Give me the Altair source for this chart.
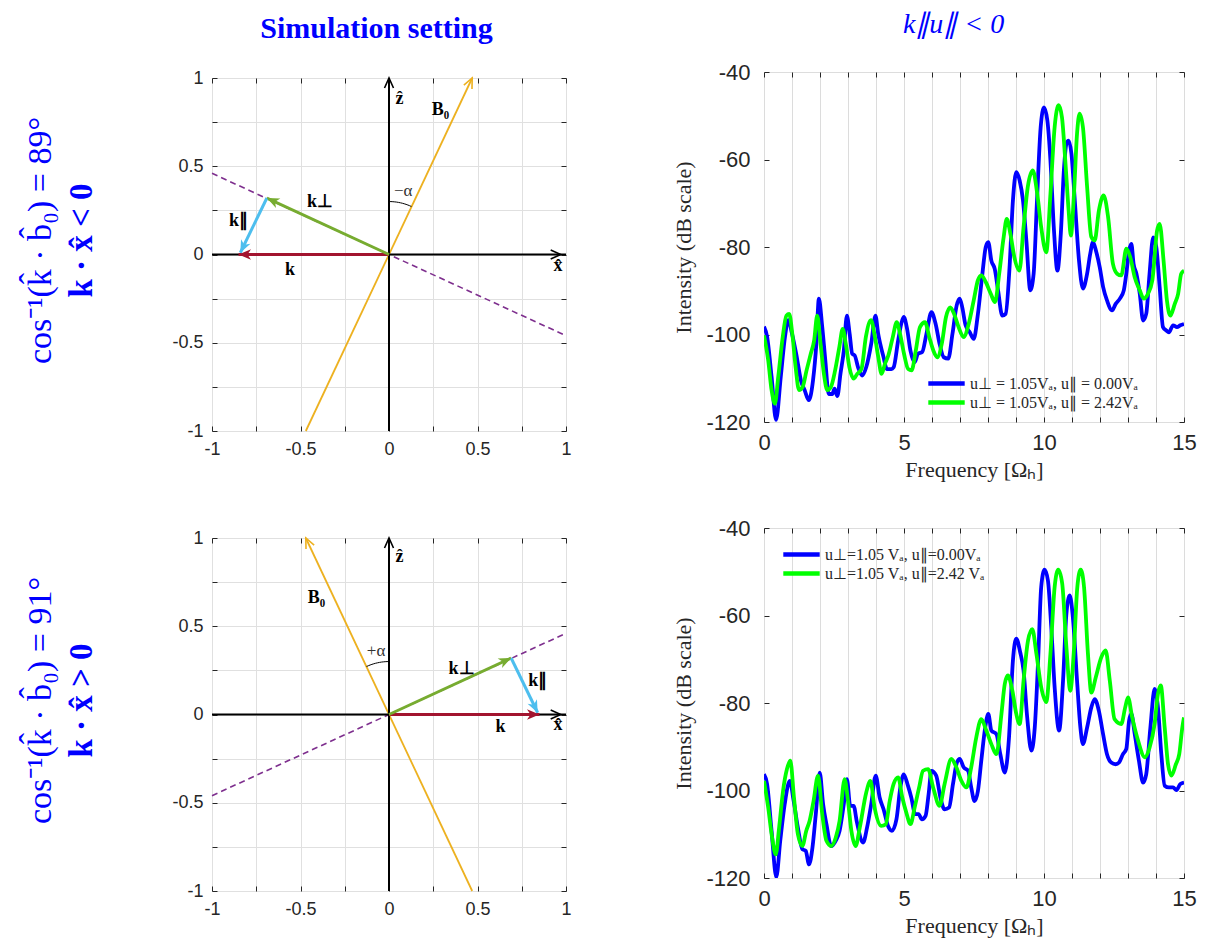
import math
import altair as alt
import pandas as pd

SERIF = "Liberation Serif"
SANS = "Liberation Sans"
TXT = "#262626"
BLUE_T = "#0000FF"
ORANGE, RED, GREEN, CYAN, PURPLE = "#EDB120", "#A2142F", "#77AC30", "#4DBEEE", "#7E2F8E"

# ---------------- spectra ----------------
top_blue_f = [0, 0.11, 0.27, 0.43, 0.6, 0.75, 0.87, 1.0, 1.15, 1.33,
              1.45, 1.6, 1.75, 1.87, 1.96, 2.08, 2.19, 2.31, 2.44, 2.52,
              2.62, 2.73, 2.85, 2.96, 3.06, 3.15, 3.24, 3.36, 3.51, 3.65,
              3.83, 3.98, 4.08, 4.15, 4.27, 4.39, 4.55, 4.63, 4.79, 4.9,
              4.99, 5.11, 5.23, 5.38, 5.5, 5.65, 5.8, 5.98, 6.13, 6.27,
              6.42, 6.58, 6.73, 6.88, 6.99, 7.08, 7.2, 7.35, 7.49, 7.64,
              7.8, 7.92, 8.01, 8.12, 8.24, 8.36, 8.51, 8.63, 8.77, 8.89,
              9.01, 9.13, 9.25, 9.37, 9.51, 9.63, 9.75, 9.88, 10.0, 10.12,
              10.23, 10.35, 10.48, 10.6, 10.71, 10.8, 10.88, 10.98, 11.1, 11.25,
              11.39, 11.54, 11.65, 11.75, 11.87, 11.99, 12.11, 12.25, 12.43, 12.56,
              12.71, 12.85, 12.94, 13.04, 13.12, 13.2, 13.3, 13.42, 13.54, 13.65,
              13.77, 13.9, 14.01, 14.13, 14.25, 14.37, 14.46, 14.61, 14.75, 14.87,
              15.0]
top_blue_v = [-98.2, -100.5, -109.6, -119.5, -109.6, -100.5, -96.7, -99.8, -104.4, -110.8,
              -112.7, -115.0, -110.5, -102.1, -91.8, -98.3, -105.9, -113.6, -113.6, -112.4,
              -114.1, -109.0, -103.7, -95.7, -99.9, -104.4, -104.8, -107.5, -109.4, -107.5,
              -102.1, -95.7, -99.9, -102.1, -105.2, -107.9, -107.9, -107.5, -101.4, -97.6,
              -96.0, -98.7, -103.7, -106.3, -104.4, -104.0, -99.9, -94.9, -97.6, -102.1,
              -105.2, -105.5, -99.9, -93.4, -91.8, -93.8, -97.9, -99.5, -101.0, -95.3,
              -86.1, -80.0, -78.9, -83.1, -85.0, -89.9, -95.7, -95.3, -84.6, -69.4,
              -62.9, -64.8, -69.4, -78.5, -89.9, -86.1, -69.4, -52.7, -48.1, -51.1,
              -60.2, -75.5, -85.4, -77.0, -62.5, -56.4, -55.7, -58.7, -69.4, -83.1,
              -89.5, -86.1, -81.6, -78.9, -81.2, -84.6, -89.1, -92.2, -94.5, -93.0,
              -91.8, -89.9, -86.1, -80.8, -79.3, -83.9, -86.1, -90.7, -96.8, -95.3,
              -86.1, -77.8, -80.0, -89.1, -98.3, -99.1, -99.5, -97.9, -98.3, -97.9,
              -97.6]
top_green_f = [0, 0.15, 0.27, 0.39, 0.51, 0.67, 0.8, 0.9, 1.01, 1.13,
               1.25, 1.38, 1.52, 1.67, 1.79, 1.9, 2.02, 2.14, 2.26, 2.39,
               2.54, 2.69, 2.81, 2.92, 3.05, 3.2, 3.33, 3.48, 3.64, 3.82,
               3.96, 4.08, 4.2, 4.32, 4.44, 4.6, 4.74, 4.86, 5.0, 5.15,
               5.27, 5.42, 5.57, 5.75, 5.9, 6.05, 6.19, 6.35, 6.5, 6.65,
               6.79, 6.95, 7.13, 7.31, 7.49, 7.64, 7.76, 7.92, 8.1, 8.25,
               8.4, 8.56, 8.67, 8.8, 8.94, 9.12, 9.27, 9.42, 9.6, 9.76,
               9.9, 10.08, 10.23, 10.38, 10.52, 10.64, 10.76, 10.88, 10.96, 11.07,
               11.18, 11.27, 11.39, 11.54, 11.69, 11.81, 11.96, 12.13, 12.29, 12.46,
               12.61, 12.76, 12.94, 13.08, 13.24, 13.42, 13.56, 13.71, 13.87, 14.04,
               14.13, 14.27, 14.39, 14.51, 14.67, 14.79, 14.9, 15.0]
top_green_v = [-100.2, -105.9, -112.7, -115.8, -109.6, -100.5, -95.7, -95.3, -99.8, -107.5,
               -112.7, -112.0, -108.2, -104.4, -101.4, -95.7, -102.1, -109.0, -112.7, -112.0,
               -108.2, -102.9, -98.7, -102.1, -107.5, -110.1, -109.0, -107.9, -100.5, -96.7,
               -100.5, -105.1, -109.0, -106.7, -104.8, -100.6, -97.2, -99.9, -104.4, -107.9,
               -108.2, -103.7, -98.3, -97.2, -100.5, -103.7, -105.2, -102.1, -96.0, -93.8,
               -95.3, -98.3, -100.6, -97.6, -92.2, -87.6, -86.5, -88.0, -90.7, -92.6,
               -86.1, -77.7, -73.6, -77.0, -82.3, -85.4, -75.5, -66.3, -62.5, -67.9,
               -75.5, -81.2, -67.9, -52.6, -47.6, -50.3, -60.2, -71.7, -77.4, -67.9,
               -54.1, -49.5, -52.6, -66.3, -77.7, -78.5, -71.7, -68.2, -73.2, -83.8,
               -86.1, -86.5, -80.4, -82.3, -86.9, -89.9, -91.8, -90.7, -87.6, -76.2,
               -74.7, -83.1, -92.2, -95.7, -93.0, -90.7, -86.1, -85.4]
bot_blue_f = [0, 0.11, 0.27, 0.44, 0.58, 0.74, 0.92, 1.06, 1.21, 1.37,
              1.49, 1.61, 1.73, 1.85, 1.99, 2.11, 2.23, 2.4, 2.56, 2.7,
              2.85, 2.96, 3.08, 3.2, 3.32, 3.54, 3.68, 3.83, 3.99, 4.13,
              4.27, 4.43, 4.57, 4.73, 4.87, 4.99, 5.14, 5.26, 5.4, 5.52,
              5.64, 5.77, 5.88, 5.98, 6.15, 6.3, 6.45, 6.61, 6.75, 6.89,
              6.99, 7.13, 7.29, 7.4, 7.52, 7.64, 7.76, 7.9, 8.01, 8.12,
              8.3, 8.44, 8.6, 8.75, 8.89, 9.01, 9.15, 9.27, 9.4, 9.55,
              9.67, 9.79, 9.9, 10.02, 10.14, 10.26, 10.38, 10.54, 10.68, 10.8,
              10.92, 11.04, 11.18, 11.3, 11.39, 11.54, 11.69, 11.81, 11.96, 12.11,
              12.25, 12.4, 12.56, 12.68, 12.82, 12.94, 13.04, 13.12, 13.24, 13.39,
              13.54, 13.65, 13.8, 13.95, 14.07, 14.19, 14.31, 14.46, 14.61, 14.73,
              14.87, 15.0]
bot_blue_v = [-96.3, -98.5, -109.2, -119.8, -111.5, -103.1, -97.8, -102.4, -108.5, -113.4,
              -113.8, -116.9, -113.1, -105.4, -95.9, -103.1, -107.7, -112.7, -111.5, -109.2,
              -103.1, -97.4, -103.5, -103.5, -107.3, -111.9, -108.5, -103.1, -96.6, -101.6,
              -104.3, -108.1, -109.2, -106.6, -99.3, -96.3, -98.9, -101.6, -105.4, -105.4,
              -106.6, -105.8, -100.8, -95.5, -96.6, -101.6, -104.3, -103.9, -98.5, -93.6,
              -92.8, -94.7, -95.5, -99.3, -102.4, -100.1, -93.2, -85.6, -82.5, -86.3,
              -87.1, -91.7, -95.9, -87.9, -70.3, -65.3, -68.4, -72.6, -83.3, -90.9,
              -85.6, -70.3, -53.5, -49.5, -52.0, -62.7, -76.4, -86.3, -74.9, -59.6,
              -55.4, -61.1, -74.9, -85.6, -89.4, -85.6, -81.0, -79.1, -81.8, -87.1,
              -91.7, -93.6, -94.0, -93.6, -91.7, -90.5, -84.0, -82.5, -87.1, -93.2,
              -98.2, -96.3, -85.6, -76.8, -81.0, -91.7, -98.9, -99.3, -99.3, -99.9,
              -98.5, -98.2]
bot_green_f = [0, 0.15, 0.29, 0.42, 0.54, 0.68, 0.82, 0.94, 1.07, 1.21,
               1.37, 1.51, 1.63, 1.77, 1.93, 2.08, 2.23, 2.4, 2.56, 2.7,
               2.88, 3.0, 3.12, 3.27, 3.42, 3.65, 3.8, 3.95, 4.19, 4.35,
               4.49, 4.63, 4.79, 4.94, 5.08, 5.23, 5.38, 5.54, 5.68, 5.86,
               6.04, 6.27, 6.45, 6.69, 6.87, 7.05, 7.23, 7.4, 7.58, 7.76,
               7.94, 8.12, 8.3, 8.48, 8.6, 8.71, 8.87, 9.01, 9.13, 9.27,
               9.43, 9.58, 9.73, 9.9, 10.08, 10.23, 10.38, 10.51, 10.65, 10.8,
               10.94, 11.06, 11.19, 11.31, 11.43, 11.57, 11.69, 11.85, 12.05, 12.2,
               12.35, 12.52, 12.76, 12.9, 13.0, 13.15, 13.36, 13.6, 13.77, 13.95,
               14.07, 14.17, 14.31, 14.43, 14.55, 14.71, 14.83, 14.94, 15.0]
bot_green_v = [-97.8, -103.9, -110.8, -114.6, -108.5, -100.1, -95.1, -93.2, -101.6, -110.0,
               -112.7, -109.2, -106.9, -102.4, -96.6, -105.4, -111.5, -112.7, -110.8, -106.9,
               -97.4, -102.4, -109.2, -112.7, -108.5, -100.5, -97.8, -103.9, -108.1, -107.7,
               -102.4, -98.5, -97.0, -101.6, -105.0, -107.7, -103.9, -99.3, -95.5, -95.1,
               -99.3, -103.5, -98.5, -92.8, -94.7, -97.8, -99.3, -94.7, -87.9, -83.7,
               -86.3, -89.4, -91.7, -82.5, -75.6, -73.7, -77.2, -82.5, -84.8, -74.9,
               -65.7, -63.1, -68.8, -76.4, -79.8, -68.8, -53.5, -49.5, -52.7, -67.3,
               -77.2, -68.8, -53.5, -49.5, -53.5, -68.8, -77.6, -74.1, -69.5, -68.0,
               -74.9, -83.7, -84.8, -81.0, -78.7, -83.3, -88.6, -92.4, -90.2, -84.8,
               -77.9, -76.0, -85.6, -94.0, -96.6, -94.0, -91.7, -85.6, -83.3]

top_labels = ["u\u22a5 = 1.05V\u2090, u\u2225 = 0.00V\u2090", "u\u22a5 = 1.05V\u2090, u\u2225 = 2.42V\u2090"]
bot_labels = ["u\u22a5=1.05 V\u2090, u\u2225=0.00V\u2090", "u\u22a5=1.05 V\u2090, u\u2225=2.42 V\u2090"]
freq_ticks = list(range(16))
db_ticks = [-120, -100, -80, -60, -40]

# ---------------- vector diagrams ----------------
grid_ticks = [-1, -0.75, -0.5, -0.25, 0, 0.25, 0.5, 0.75, 1]
frame_axes = {"x": [-1, 0], "y": [0, -1], "x2": [1, 0], "y2": [0, 1], "tipx": [0.97, 0], "tipy": [0, 1]}

top_b0_x, top_b0_y = [-0.47, 0.47], [-1.0, 1.0]
top_plane_x, top_plane_y = [-1.0, 1.0], [0.46, -0.46]
top_k = [0.0, 0.0, -0.85, 0.0]
top_kperp = [0.0, 0.0, -0.69, 0.32]
top_kpar = [-0.69, 0.32, -0.84, 0.01]
top_alpha_deg = 25.0
top_text = ["B\u2080", "k\u22a5", "k\u2225", "k", "\u1e91", "x\u0302"]
top_text_x = [0.29, -0.39, -0.85, -0.56, 0.06, 0.955]
top_text_y = [0.82, 0.30, 0.19, -0.085, 0.88, -0.065]
top_alpha_text, top_alpha_xy = "\u2212\u03b1", (0.08, 0.357)

bot_b0_x, bot_b0_y = [0.47, -0.47], [-1.0, 1.0]
bot_plane_x, bot_plane_y = [-1.0, 1.0], [-0.46, 0.46]
bot_k = [0.0, 0.0, 0.85, 0.0]
bot_kperp = [0.0, 0.0, 0.69, 0.32]
bot_kpar = [0.69, 0.32, 0.84, 0.01]
bot_alpha_deg = -25.0
bot_text = ["B\u2080", "k\u22a5", "k\u2225", "k", "\u1e91", "x\u0302"]
bot_text_x = [-0.41, 0.41, 0.84, 0.63, 0.06, 0.955]
bot_text_y = [0.66, 0.26, 0.19, -0.07, 0.89, -0.06]
bot_alpha_text, bot_alpha_xy = "+\u03b1", (-0.073, 0.357)

VW, VH = 354, 353
SW, SH = 420, 350


def inner_axis(orient, values):
    return alt.Axis(orient=orient, values=values, offset=-5, tickSize=5, ticks=True,
                    labels=False, domain=False, grid=False, title=None,
                    tickColor=TXT, tickWidth=1)


def heading(dx, dy):
    a = math.degrees(math.atan2(dx * VW / 2, dy * VH / 2))
    return (a + 360) % 360


def vector_panel(b0x, b0y, plx, ply, k, kperp, kpar, alpha, txt, tx, ty, atxt, axy, main, sub):
    xs = alt.Scale(domain=[-1, 1], nice=False, zero=False)
    ys = alt.Scale(domain=[-1, 1], nice=False, zero=False)
    lab = "datum.value % 0.5 == 0 ? '' + datum.value : ''"
    plane = alt.Chart(pd.DataFrame({"x": plx, "y": ply})).mark_line(
        color=PURPLE, strokeWidth=1.6, strokeDash=[6, 4]).encode(
        x=alt.X("x:Q", scale=xs, axis=alt.Axis(orient="bottom", values=grid_ticks, labelExpr=lab,
                                                grid=True, ticks=False, domain=False, labelFlush=False,
                                                labelOverlap=False, labelFont=SANS, labelFontSize=18,
                                                labelColor=TXT, labelPadding=9, title=None,
                                                gridColor="#e0e0e0")),
        y=alt.Y("y:Q", scale=ys, axis=alt.Axis(orient="left", values=grid_ticks, labelExpr=lab,
                                                grid=True, ticks=False, domain=False,
                                                labelOverlap=False, labelFont=SANS, labelFontSize=18,
                                                labelColor=TXT, labelPadding=9, title=None,
                                                gridColor="#e0e0e0")))
    b0 = alt.Chart(pd.DataFrame({"x": b0x, "y": b0y})).mark_line(color=ORANGE, strokeWidth=1.8).encode(
        x=alt.X("x:Q", scale=xs, axis=inner_axis("top", grid_ticks)),
        y=alt.Y("y:Q", scale=ys, axis=inner_axis("right", grid_ticks)))
    axes_df = pd.DataFrame({k_: v for k_, v in frame_axes.items() if k_ in ("x", "y", "x2", "y2")})
    axes_lines = alt.Chart(axes_df).mark_rule(color="black", strokeWidth=2).encode(
        x=alt.X("x:Q", scale=xs, axis=inner_axis("bottom", grid_ticks)),
        y=alt.Y("y:Q", scale=ys, axis=inner_axis("left", grid_ticks)),
        x2="x2:Q", y2="y2:Q")
    vec_df = pd.DataFrame({"x": [k[0], kperp[0], kpar[0]], "y": [k[1], kperp[1], kpar[1]],
                           "x2": [k[2], kperp[2], kpar[2]], "y2": [k[3], kperp[3], kpar[3]],
                           "c": [RED, GREEN, CYAN]})
    vecs = alt.Chart(vec_df).mark_rule(strokeWidth=3).encode(
        x=alt.X("x:Q", scale=xs, axis=None), y=alt.Y("y:Q", scale=ys, axis=None),
        x2="x2:Q", y2="y2:Q", color=alt.Color("c:N", scale=None))
    vec_df["ang"] = [heading(r.x2 - r.x, r.y2 - r.y) for r in vec_df.itertuples()]
    heads = alt.Chart(vec_df).mark_point(
        shape="M0,0L0.42,1L0,0.72L-0.42,1Z", filled=True, size=620, opacity=1).encode(
        x=alt.X("x2:Q", scale=xs, axis=None), y=alt.Y("y2:Q", scale=ys, axis=None),
        angle=alt.Angle("ang:Q", scale=None), color=alt.Color("c:N", scale=None))
    open_df = pd.DataFrame({"x": frame_axes["tipx"] + [b0x[1]], "y": frame_axes["tipy"] + [b0y[1]],
                            "ang": [90, 0, heading(b0x[1] - b0x[0], b0y[1] - b0y[0])],
                            "c": ["black", "black", ORANGE]})
    oheads = alt.Chart(open_df).mark_point(
        shape="M-0.45,1L0,0L0.45,1", filled=False, size=400, strokeWidth=1.6, opacity=1).encode(
        x=alt.X("x:Q", scale=xs, axis=None), y=alt.Y("y:Q", scale=ys, axis=None),
        angle=alt.Angle("ang:Q", scale=None), color=alt.Color("c:N", scale=None))
    # alpha arc (geometric annotation between z axis and B0)
    n = 12
    arc_df = pd.DataFrame({"x": [0.3 * math.sin(math.radians(alpha * i / n)) for i in range(n + 1)],
                           "y": [0.3 * math.cos(math.radians(alpha * i / n)) for i in range(n + 1)],
                           "o": list(range(n + 1))})
    arc = alt.Chart(arc_df).mark_line(color="black", strokeWidth=1).encode(
        x=alt.X("x:Q", scale=xs, axis=None), y=alt.Y("y:Q", scale=ys, axis=None), order="o:Q")
    lab_df = pd.DataFrame({"x": tx, "y": ty, "t": txt})
    labels = alt.Chart(lab_df).mark_text(font=SERIF, fontSize=18, fontWeight="bold", color="black").encode(
        x=alt.X("x:Q", scale=xs, axis=None), y=alt.Y("y:Q", scale=ys, axis=None), text="t:N")
    alab = alt.Chart(pd.DataFrame({"x": [axy[0]], "y": [axy[1]], "t": [atxt]})).mark_text(
        font=SERIF, fontSize=17, color="#333333").encode(
        x=alt.X("x:Q", scale=xs, axis=None), y=alt.Y("y:Q", scale=ys, axis=None), text="t:N")
    return alt.layer(plane, b0, axes_lines, vecs, heads, oheads, arc, labels, alab).properties(
        width=VW, height=VH,
        title=alt.TitleParams(text=main, subtitle=sub, orient="left", anchor="middle", frame="group",
                              font=SERIF, fontSize=34, fontWeight="normal", color=BLUE_T,
                              subtitleFont=SERIF, subtitleFontSize=33, subtitleFontWeight="bold",
                              subtitleColor=BLUE_T, subtitlePadding=8, offset=73, dx=14))


def spectrum_panel(fb, vb, fg, vg, labels, lx, ly):
    df = pd.concat([pd.DataFrame({"f": fb, "v": vb, "s": labels[0]}),
                    pd.DataFrame({"f": fg, "v": vg, "s": labels[1]})], ignore_index=True)
    xs = alt.Scale(domain=[0, 15], nice=False, zero=False)
    ys = alt.Scale(domain=[-120, -40], nice=False, zero=False)
    lines = alt.Chart(df).mark_line(strokeWidth=3.8, interpolate="monotone", clip=True).encode(
        x=alt.X("f:Q", scale=xs, axis=alt.Axis(
            orient="bottom", values=freq_ticks,
            labelExpr="datum.value % 5 == 0 ? '' + datum.value : ''",
            grid=True, gridColor="#dcdcdc", ticks=False, domain=False, labelFlush=False,
            labelOverlap=False, labelFont=SANS, labelFontSize=22, labelColor=TXT, labelPadding=10,
            title="Frequency [\u03a9\u2095]", titleFont=SERIF, titleFontSize=22,
            titleFontWeight="normal", titleColor=TXT, titlePadding=6)),
        y=alt.Y("v:Q", scale=ys, axis=alt.Axis(
            orient="left", values=db_ticks, labelExpr="'' + datum.value", grid=False, ticks=False,
            domain=False, labelOverlap=False, labelFont=SANS, labelFontSize=22, labelColor=TXT,
            labelPadding=14, title="Intensity (dB scale)", titleFont=SERIF, titleFontSize=22,
            titleFontWeight="normal", titleColor=TXT, titlePadding=10)),
        color=alt.Color("s:N", scale=alt.Scale(domain=labels, range=["#0000FF", "#00FF00"]),
                        legend=alt.Legend(orient="none", legendX=lx, legendY=ly, title=None,
                                          labelFont=SERIF, labelFontSize=16, labelColor=TXT,
                                          labelLimit=400, symbolType="M-2.6,0L2.6,0",
                                          symbolStrokeWidth=4.5, symbolSize=196,
                                          padding=0, rowPadding=0, labelOffset=14)))
    t1 = alt.Chart(df).mark_point(opacity=0).encode(
        x=alt.X("f:Q", scale=xs, axis=inner_axis("top", freq_ticks)),
        y=alt.Y("v:Q", scale=ys, axis=inner_axis("right", db_ticks)))
    t2 = alt.Chart(df).mark_point(opacity=0).encode(
        x=alt.X("f:Q", scale=xs, axis=inner_axis("bottom", freq_ticks)),
        y=alt.Y("v:Q", scale=ys, axis=inner_axis("left", db_ticks)))
    return alt.layer(lines, t1, t2).properties(width=SW, height=SH)


def spacer(w, h):
    # empty strip used only to fine-tune the vertical placement of a column
    return alt.Chart(pd.DataFrame({"a": [0]})).mark_point(size=0, opacity=0).encode(
        x=alt.value(0), y=alt.value(0)).properties(
        width=w, height=h, view=alt.ViewBackground(strokeOpacity=0))


TL = vector_panel(top_b0_x, top_b0_y, top_plane_x, top_plane_y, top_k, top_kperp, top_kpar,
                  top_alpha_deg, top_text, top_text_x, top_text_y, top_alpha_text, top_alpha_xy,
                  "cos\u207b\u00b9(k\u0302 \u00b7 b\u0302\u2080) = 89\u00b0", "k \u00b7 x\u0302 < 0")
BL = vector_panel(bot_b0_x, bot_b0_y, bot_plane_x, bot_plane_y, bot_k, bot_kperp, bot_kpar,
                  bot_alpha_deg, bot_text, bot_text_x, bot_text_y, bot_alpha_text, bot_alpha_xy,
                  "cos\u207b\u00b9(k\u0302 \u00b7 b\u0302\u2080) = 91\u00b0", "k \u00b7 x\u0302 > 0")
TR = spectrum_panel(top_blue_f, top_blue_v, top_green_f, top_green_v, top_labels, 173, 302)
BR = spectrum_panel(bot_blue_f, bot_blue_v, bot_green_f, bot_green_v, bot_labels, 28, 17)

left_col = alt.vconcat(spacer(VW, 9), alt.vconcat(TL, BL, spacing=69), spacing=4).properties(
    title=alt.TitleParams("Simulation setting", font=SERIF, fontSize=30, fontWeight="bold",
                          color=BLUE_T, anchor="middle", dx=79, dy=13, offset=24))
right_col = alt.vconcat(spacer(SW, 1),
                        alt.vconcat(TR, BR, spacing=35).resolve_scale(color="independent").resolve_legend(
                            color="independent"), spacing=4).resolve_scale(
    color="independent").resolve_legend(color="independent").properties(
    title=alt.TitleParams("k\u2225u\u2225 < 0", font=SERIF, fontSize=28, fontStyle="italic",
                          fontWeight="normal", color=BLUE_T, anchor="middle", dx=19, dy=-2, offset=14))

chart = alt.hconcat(left_col, right_col, spacing=100).resolve_scale(color="independent").resolve_legend(
    color="independent").properties(
    padding={"left": 23, "top": 11, "right": 5, "bottom": 5}
).configure_view(stroke=TXT, strokeWidth=1).configure(background="white")

chart.save("out.html", embed_options={"renderer": "svg", "actions": False})
